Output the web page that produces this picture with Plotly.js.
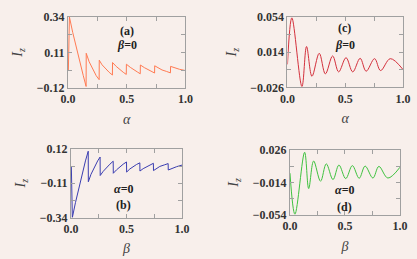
<!DOCTYPE html>
<html>
<head>
<meta charset="utf-8">
<script src="https://cdn.plot.ly/plotly-3.0.1.min.js"></script>
<style>html,body{margin:0;padding:0;background:#f8efeb;}#chart{width:417px;height:259px;}</style>
</head>
<body>
<div id="chart"></div>
<script>
// Panel (a): I_z vs alpha, beta = 0
const aX = [0.003, 0.012, 0.04, 0.07, 0.10, 0.13, 0.154,
            0.155, 0.18, 0.21, 0.24, 0.265,
            0.266, 0.29, 0.32, 0.35, 0.378,
            0.379, 0.41, 0.44, 0.47, 0.496,
            0.497, 0.53, 0.56, 0.59, 0.615,
            0.616, 0.65, 0.68, 0.71, 0.737,
            0.738, 0.77, 0.80, 0.84, 0.872,
            0.873, 0.91, 0.95, 1.0];
const aY = [-0.005, 0.34, 0.24, 0.14, 0.05, -0.04, -0.11,
            0.105, 0.05, 0.0, -0.04, -0.066,
            0.06, 0.03, 0.003, -0.018, -0.036,
            0.045, 0.02, -0.002, -0.018, -0.032,
            0.034, 0.014, -0.003, -0.016, -0.028,
            0.029, 0.012, -0.001, -0.012, -0.023,
            0.024, 0.009, -0.003, -0.013, -0.022,
            0.02, 0.01, 0.001, -0.007];
// Panel (b): I_z vs beta, alpha = 0
const bX = [0.003, 0.012, 0.04, 0.07, 0.10, 0.13, 0.155,
            0.156, 0.18, 0.21, 0.24, 0.262,
            0.263, 0.29, 0.32, 0.35, 0.38,
            0.381, 0.41, 0.44, 0.47, 0.50,
            0.501, 0.53, 0.56, 0.59, 0.62,
            0.621, 0.65, 0.68, 0.71, 0.742,
            0.743, 0.77, 0.80, 0.84, 0.875,
            0.876, 0.91, 0.95, 1.0];
const bY = [0.0, -0.34, -0.24, -0.14, -0.05, 0.04, 0.105,
            -0.10, -0.05, 0.0, 0.04, 0.066,
            -0.058, -0.03, -0.003, 0.018, 0.038,
            -0.043, -0.02, 0.002, 0.018, 0.033,
            -0.035, -0.014, 0.003, 0.016, 0.027,
            -0.028, -0.012, 0.001, 0.012, 0.024,
            -0.025, -0.009, 0.003, 0.013, 0.022,
            -0.021, -0.01, 0.001, 0.012];
// Panel (c): I_z vs alpha, beta = 0
const cX = [0.0, 0.038, 0.125, 0.165, 0.212, 0.275, 0.328, 0.391, 0.443, 0.507,
            0.565, 0.629, 0.681, 0.754, 0.806, 0.89, 1.0];
const cY = [0.0002, 0.053, -0.0248, 0.0205, -0.0133, 0.0128, -0.0106, 0.0098, -0.0083, 0.0078,
            -0.0083, 0.0071, -0.0075, 0.0067, -0.0068, 0.0067, -0.0056];
// Panel (d): I_z vs beta, alpha = 0
const dX = [0.0, 0.045, 0.133, 0.17, 0.215, 0.278, 0.33, 0.391, 0.445, 0.507,
            0.567, 0.629, 0.683, 0.754, 0.808, 0.89, 1.0];
const dY = [-0.0025, -0.053, 0.0232, -0.0215, 0.0125, -0.0124, 0.009, -0.0104, 0.0075, -0.0092,
            0.0068, -0.0088, 0.0062, -0.0085, 0.0058, -0.0085, 0.0048];

const xTickVals = [0, 0.5, 1.0];
const xTickText = ['0.0', '0.5', '1.0'];
const aTickVals = [-0.12, 0.11, 0.34];
const aTickText = ['\u22120.12', '0.11', '0.34'];
const bTickVals = [-0.34, -0.11, 0.12];
const bTickText = ['\u22120.34', '\u22120.11', '0.12'];
const cTickVals = [-0.026, 0.014, 0.054];
const cTickText = ['\u22120.026', '0.014', '0.054'];
const dTickVals = [-0.054, -0.014, 0.026];
const dTickText = ['\u22120.054', '\u22120.014', '0.026'];

const serif = 'Liberation Serif, Times New Roman, serif';
const frame = '#a0a0a0';
const tickFont = {family: serif, size: 12, color: '#333'};
const bold = arr => arr.map(t => '<b>' + t + '</b>');

function minorOf(tv) {
  return {ticks: 'inside', ticklen: 4, tickcolor: frame, tick0: tv[0], dtick: (tv[1] - tv[0]) / 2, showgrid: false};
}
function xAxis(dom, anchor, label) {
  return {domain: dom, anchor: anchor, range: [0, 1], showline: true, linecolor: frame, linewidth: 1,
    mirror: 'ticks', ticks: 'inside', ticklen: 4, tickcolor: frame, showgrid: false, zeroline: false,
    tickmode: 'array', tickvals: xTickVals, ticktext: bold(xTickText), tickfont: tickFont,
    minor: minorOf(xTickVals),
    title: {text: '<i>' + label + '</i>', font: {family: serif, size: 14, color: '#444'}, standoff: 8}};
}
function yAxis(dom, anchor, rng, tv, tt) {
  return {domain: dom, anchor: anchor, range: rng, showline: true, linecolor: frame, linewidth: 1,
    mirror: 'ticks', ticks: 'inside', ticklen: 4, tickcolor: frame, showgrid: false, zeroline: false,
    tickmode: 'array', tickvals: tv, ticktext: bold(tt), tickfont: tickFont,
    minor: minorOf(tv),
    title: {text: '<i>I</i><sub><i>z</i></sub>', font: {family: serif, size: 14, color: '#444'}, standoff: 10}};
}

const traces = [
  {x: aX, y: aY, xaxis: 'x', yaxis: 'y', mode: 'lines', line: {color: '#ff7a52', width: 1}},
  {x: cX, y: cY, xaxis: 'x2', yaxis: 'y2', mode: 'lines', line: {color: '#d3303c', width: 1, shape: 'spline', smoothing: 1}},
  {x: bX, y: bY, xaxis: 'x3', yaxis: 'y3', mode: 'lines', line: {color: '#3a3db0', width: 1}},
  {x: dX, y: dY, xaxis: 'x4', yaxis: 'y4', mode: 'lines', line: {color: '#3fc23f', width: 1, shape: 'spline', smoothing: 1}}
];

const annFont = {family: serif, size: 12, color: '#222'};
function ann(x, y, text) {
  return {xref: 'paper', yref: 'paper', x: x, y: y, xanchor: 'center', yanchor: 'middle',
    text: '<b>' + text + '</b>', showarrow: false, font: annFont};
}

const layout = {
  width: 417, height: 259, margin: {l: 0, r: 0, t: 0, b: 0},
  paper_bgcolor: '#f8efeb', plot_bgcolor: '#f8efeb', showlegend: false,
  xaxis: xAxis([0.1631, 0.4448], 'y', 'α'),
  yaxis: yAxis([0.6602, 0.9344], 'x', [-0.12, 0.34], aTickVals, aTickText),
  xaxis2: xAxis([0.6894, 0.9664], 'y2', 'α'),
  yaxis2: yAxis([0.6622, 0.9344], 'x2', [-0.026, 0.054], cTickVals, cTickText),
  xaxis3: xAxis([0.1703, 0.4365], 'y3', 'β'),
  yaxis3: yAxis([0.1602, 0.4247], 'x3', [-0.34, 0.12], bTickVals, bTickText),
  xaxis4: xAxis([0.6954, 0.9592], 'y4', 'β'),
  yaxis4: yAxis([0.1699, 0.4208], 'x4', [-0.054, 0.026], dTickVals, dTickText),
  annotations: [
    ann(0.3046, 0.8803, '(a)'),
    ann(0.3046, 0.8263, '<i>β</i>=0'),
    ann(0.8266, 0.8919, '(c)'),
    ann(0.8266, 0.8263, '<i>β</i>=0'),
    ann(0.2957, 0.2703, '<i>α</i>=0'),
    ann(0.2957, 0.2104, '(b)'),
    ann(0.8266, 0.2664, '<i>α</i>=0'),
    ann(0.8266, 0.2027, '(d)')
  ]
};

Plotly.newPlot('chart', traces, layout, {displayModeBar: false, staticPlot: true});
</script>
</body>
</html>
